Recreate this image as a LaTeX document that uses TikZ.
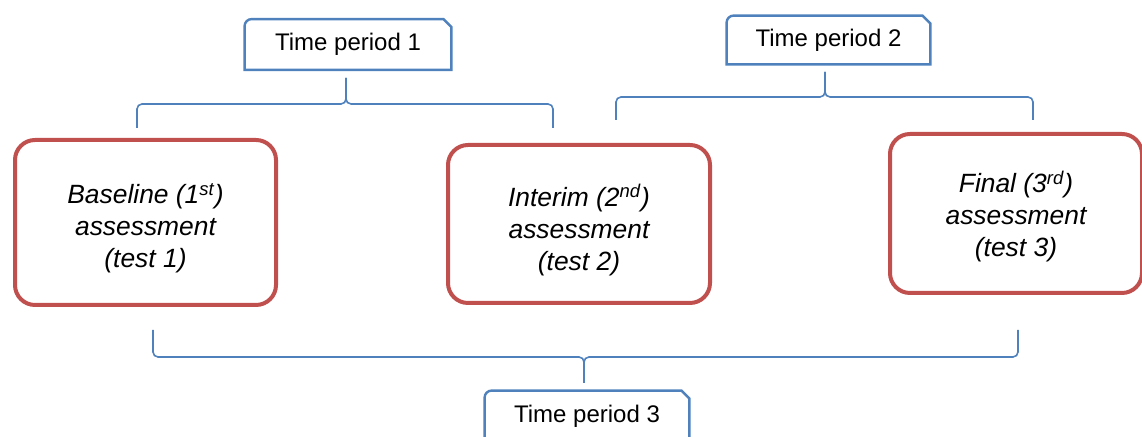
\documentclass[tikz,border=0pt]{standalone}
\usepackage{fontspec}
\setmainfont{Liberation Sans}
\usepackage{tikz}
\usetikzlibrary{arrows,calc}
\definecolor{testred}{HTML}{C0504D}
\definecolor{periodblue}{HTML}{4F81BD}
\tikzstyle{assessment} = [draw=testred,line width=2pt,rounded corners=10pt,align=center,inner sep=0pt,font=\fontsize{13.2}{16}\selectfont\itshape]
\tikzstyle{period} = [minimum width=103pt,minimum height=25pt,inner sep=0pt,font=\fontsize{12}{14}\selectfont]
\tikzstyle{periodframe} = [draw=periodblue,line width=1.2pt]
\tikzstyle{brace} = [draw=periodblue,line width=0.8pt,rounded corners=2.5pt]
\begin{document}
\begin{tikzpicture}[x=0.5pt,y=0.5pt]
                  \useasboundingbox (0,0) rectangle (1142,437);
                  \node (a1)[assessment,minimum width=130.5pt,minimum height=82.5pt] at (145.5,214.5) {\rule{0pt}{16pt}Baseline (1\textsuperscript{st})\\assessment\\(test 1)};
                  \node (a2)[assessment,minimum width=131pt,minimum height=79pt] at (579,213) {\rule{0pt}{17pt}Interim (2\textsuperscript{nd})\\assessment\\(test 2)};
                  \node (a3)[assessment,minimum width=126pt,minimum height=79.5pt] at (1016,223.5) {\rule{0pt}{14pt}Final (3\textsuperscript{rd})\\assessment\\(test 3)};
                  \node (tp1)[period] at (348,392.5) {Time period 1};
                  \node (tp2)[period,minimum width=101.5pt,minimum height=24pt] at (828.5,397) {Time period 2};
                  \node (tp3)[period,minimum width=102pt] at (587,21) {Time period 3};

                  % frames: round top left, cut top right
                  \foreach \t in {tp1,tp2,tp3}
                    \draw[periodframe] (\t.south west) -- ([yshift=-3.5pt]\t.north west)
                      arc[start angle=180,end angle=90,radius=3.5pt] -- ([xshift=-4pt]\t.north east)
                      -- ([yshift=-4pt]\t.north east) -- (\t.south east) -- cycle;

                  \coordinate (b1l) at (137,309);
                  \coordinate (b1r) at (553,309);
                  \coordinate (b1m) at (346,333);
                  \coordinate (b1t) at (346,359);
                  \coordinate (b2l) at (616,317);
                  \coordinate (b2r) at (1033,317);
                  \coordinate (b2m) at (825,340);
                  \coordinate (b2t) at (825,365);
                  \coordinate (b3l) at (153,107);
                  \coordinate (b3r) at (1018,107);
                  \coordinate (b3m) at (584,80);
                  \coordinate (b3t) at (584,54);

                  \draw[brace] (b1l) |- (b1m) -- (b1t);
                  \draw[brace] (b1r) |- (b1m) -- (b1t);
                  \draw[brace] (b2l) |- (b2m) -- (b2t);
                  \draw[brace] (b2r) |- (b2m) -- (b2t);
                  \draw[brace] (b3l) |- (b3m) -- (b3t);
                  \draw[brace] (b3r) |- (b3m) -- (b3t);
            \end{tikzpicture}
\end{document}
